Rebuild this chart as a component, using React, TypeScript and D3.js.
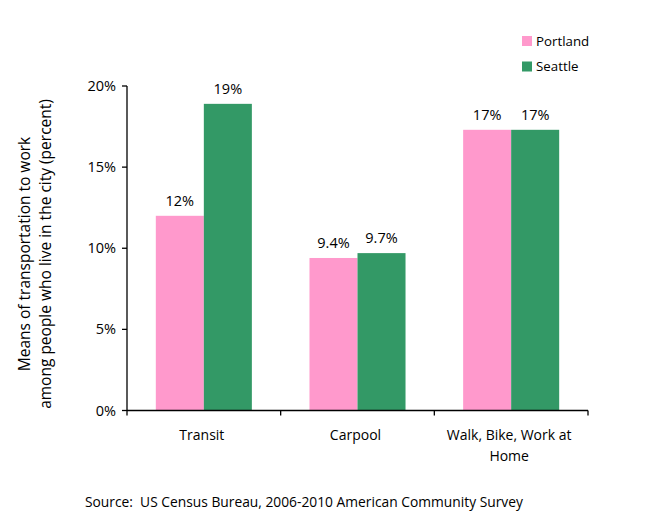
import React from "react";
import * as d3 from "d3";

const categories = ["Transit", "Carpool", "Walk, Bike, Work at Home"];
const categoryLines = [["Transit"], ["Carpool"], ["Walk, Bike, Work at", "Home"]];
const seriesNames = ["Portland", "Seattle"];
const portland = [12.0, 9.4, 17.3];
const seattle = [18.9, 9.7, 17.3];
const portlandLabels = ["12%", "9.4%", "17%"];
const seattleLabels = ["19%", "9.7%", "17%"];
const yTicks = [0, 5, 10, 15, 20];
const colors = ["#FF99CC", "#339966"];

const W = 648, H = 518;
const left = 127, right = 588, top = 86, bottom = 410.5;
const font = "'Open Sans', sans-serif";

export default function App() {
  const x = d3.scaleBand<string>().domain(categories).range([left, right]).paddingInner(0.375).paddingOuter(0.1875);
  const xs = d3.scaleBand<string>().domain(seriesNames).range([0, x.bandwidth()]);
  const y = d3.scaleLinear().domain([0, 20]).range([bottom, top]);
  const series = [
    { name: seriesNames[0], values: portland, labels: portlandLabels, color: colors[0] },
    { name: seriesNames[1], values: seattle, labels: seattleLabels, color: colors[1] },
  ];
  const step = x.step();
  const boundaries = d3.range(categories.length + 1).map((i) => left + i * step);
  return (
    <div style={{ position: "absolute", left: 0, top: 0 }}>
      <svg width={W} height={H} style={{ display: "block", background: "#fff" }} fontFamily={font}>
        {series.map((s) =>
          categories.map((c, i) => (
            <rect key={s.name + c} x={(x(c) ?? 0) + (xs(s.name) ?? 0)} y={y(s.values[i])}
              width={xs.bandwidth()} height={bottom - y(s.values[i])} fill={s.color} />
          ))
        )}
        {series.map((s) =>
          categories.map((c, i) => (
            <text key={"l" + s.name + c} x={(x(c) ?? 0) + (xs(s.name) ?? 0) + xs.bandwidth() / 2}
              y={y(s.values[i]) - 10} textAnchor="middle" fontSize={14.5} fill="#000">{s.labels[i]}</text>
          ))
        )}
        <line x1={left} x2={left} y1={top} y2={bottom} stroke="#000" strokeWidth={1.3} />
        <line x1={left} x2={right} y1={bottom} y2={bottom} stroke="#000" strokeWidth={1.3} />
        {yTicks.map((t) => (
          <g key={t}>
            <line x1={left - 5} x2={left} y1={y(t)} y2={y(t)} stroke="#000" strokeWidth={1.3} />
            <text x={left - 11} y={y(t)} dy="0.35em" textAnchor="end" fontSize={14.5}>{t}%</text>
          </g>
        ))}
        {boundaries.map((b, i) => (
          <line key={i} x1={b} x2={b} y1={bottom} y2={bottom + 5} stroke="#000" strokeWidth={1.3} />
        ))}
        {categories.map((c, i) => (
          <text key={c} x={(x(c) ?? 0) + x.bandwidth() / 2 - 2} y={435} textAnchor="middle" fontSize={14}>
            {categoryLines[i].map((ln, j) => (
              <tspan key={j} x={(x(c) ?? 0) + x.bandwidth() / 2 - 2} dy={j === 0 ? "0.35em" : 21.5}>{ln}</tspan>
            ))}
          </text>
        ))}
        <text transform={`translate(25,254) rotate(-90)`} textAnchor="middle" fontSize={15.5}>
          <tspan x={0} dy="0.35em">Means of transportation to work</tspan>
          <tspan x={0} dy={21}>among people who live in the city (percent)</tspan>
        </text>
        {series.map((s, i) => (
          <g key={"leg" + s.name} transform={`translate(522,${41 + i * 25.5})`}>
            <rect x={0} y={-5} width={10} height={10} fill={s.color} />
            <text x={14} y={0} dy="0.35em" fontSize={13.3}>{s.name}</text>
          </g>
        ))}
        <text x={85} y={502} dy="0.35em" fontSize={13.8} style={{ whiteSpace: "pre" }}>{"Source:  US Census Bureau, 2006-2010 American Community Survey"}</text>
      </svg>
    </div>
  );
}
